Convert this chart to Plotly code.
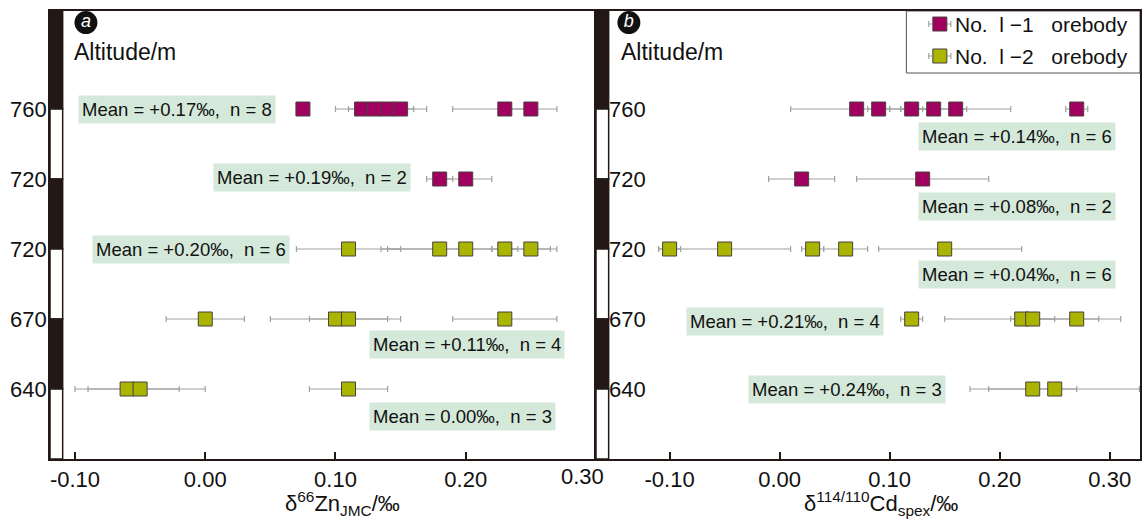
import plotly.graph_objects as go

# ---------------- data ----------------
row_labels = ["640", "670", "720", "720", "760"]
row_pos = [0, 1, 2, 3, 4]

# Panel a: delta66Zn (JMC)
a_ob1_x = [0.075, 0.12, 0.13, 0.14, 0.15, 0.23, 0.25, 0.18, 0.20]
a_ob1_row = [4, 4, 4, 4, 4, 4, 4, 3, 3]
a_ob1_errp = [0.004, 0.02, 0.02, 0.02, 0.02, 0.02, 0.02, 0.01, 0.02]
a_ob1_errm = [0.004, 0.02, 0.02, 0.02, 0.02, 0.04, 0.02, 0.01, 0.02]

a_ob2_x = [0.11, 0.18, 0.20, 0.23, 0.25, 0.00, 0.10, 0.11, 0.23, -0.06, -0.05, 0.11]
a_ob2_row = [2, 2, 2, 2, 2, 1, 1, 1, 1, 0, 0, 0]
a_ob2_errp = [0.04, 0.04, 0.065, 0.01, 0.02, 0.03, 0.05, 0.03, 0.04, 0.04, 0.05, 0.03]
a_ob2_errm = [0.04, 0.04, 0.065, 0.01, 0.02, 0.03, 0.05, 0.03, 0.04, 0.04, 0.04, 0.03]

# Panel b: delta114/110Cd (spex)
b_ob1_x = [0.07, 0.09, 0.12, 0.14, 0.16, 0.27, 0.02, 0.13]
b_ob1_row = [4, 4, 4, 4, 4, 4, 3, 3]
b_ob1_errp = [0.06, 0.01, 0.02, 0.03, 0.05, 0.01, 0.03, 0.06]
b_ob1_errm = [0.06, 0.01, 0.02, 0.03, 0.05, 0.01, 0.03, 0.06]

b_ob2_x = [-0.10, -0.05, 0.03, 0.06, 0.15, 0.12, 0.22, 0.23, 0.27, 0.23, 0.25]
b_ob2_row = [2, 2, 2, 2, 2, 1, 1, 1, 1, 0, 0]
b_ob2_errp = [0.01, 0.06, 0.01, 0.02, 0.07, 0.01, 0.07, 0.02, 0.04, 0.04, 0.077]
b_ob2_errm = [0.01, 0.06, 0.01, 0.02, 0.06, 0.01, 0.07, 0.02, 0.04, 0.04, 0.077]

a_mean_text = ["Mean = +0.17‰,  n = 8", "Mean = +0.19‰,  n = 2", "Mean = +0.20‰,  n = 6",
               "Mean = +0.11‰,  n = 4", "Mean = 0.00‰,  n = 3"]
a_mean_x = [-0.098, 0.006, -0.087, 0.126, 0.126]
a_mean_y = [4.0, 3.02, 2.0, 0.63, -0.39]

b_mean_text = ["Mean = +0.14‰,  n = 6", "Mean = +0.08‰,  n = 2", "Mean = +0.04‰,  n = 6",
               "Mean = +0.21‰,  n = 4", "Mean = +0.24‰,  n = 3"]
b_mean_x = [0.126, 0.126, 0.126, -0.085, -0.029]
b_mean_y = [3.61, 2.61, 1.63, 0.96, 0.0]

x_ticks = [-0.10, 0.00, 0.10, 0.20, 0.30]
x_ticktext_a = ["-0.10", "0.00", "0.10", "0.20", ""]   # the 0.30 label of panel a is set off to the left
x_ticktext_b = ["-0.10", "0.00", "0.10", "0.20", "0.30"]
x_title_a = "δ<sup>66</sup>Zn<sub>JMC</sub>/‰"
x_title_b = "δ<sup>114/110</sup>Cd<sub>spex</sub>/‰"

legend_names = ["No.  l \u22121   orebody", "No.  l \u22122   orebody"]
legend_x = [0.1456, 0.1456]
legend_y = [5.214, 4.757]
legend_err = [0.01, 0.01]
panel_letters = ["a", "b"]

# ---------------- styles ----------------
PURPLE = "#a0005e"
GREEN = "#a9b500"
DARK = "#231815"
BOXC = "#d5e9da"
TXT = "#111111"
FONT = "Liberation Sans, Arial, sans-serif"

fig = go.Figure()


def add_series(x, row, ep, em, color, xa, ya, name):
    fig.add_trace(go.Scatter(
        x=x, y=row, mode="markers", name=name, showlegend=False,
        xaxis=xa, yaxis=ya,
        marker=dict(symbol="square", size=14, color=color, line=dict(color="#4a4040", width=1)),
        error_x=dict(type="data", symmetric=False, array=ep, arrayminus=em,
                     color="#a0a0a0", thickness=1.2, width=3),
        cliponaxis=True,
    ))


add_series(a_ob1_x, a_ob1_row, a_ob1_errp, a_ob1_errm, PURPLE, "x", "y", legend_names[0])
add_series(a_ob2_x, a_ob2_row, a_ob2_errp, a_ob2_errm, GREEN, "x", "y", legend_names[1])
add_series(b_ob1_x, b_ob1_row, b_ob1_errp, b_ob1_errm, PURPLE, "x2", "y2", legend_names[0])
add_series(b_ob2_x, b_ob2_row, b_ob2_errp, b_ob2_errm, GREEN, "x2", "y2", legend_names[1])

# legend keys (square with error-bar caps), drawn inside panel b
for lx, ly, le, col, nm in zip(legend_x, legend_y, legend_err, [PURPLE, GREEN], legend_names):
    fig.add_trace(go.Scatter(
        x=[lx], y=[ly], xaxis="x2", yaxis="y2", mode="markers", showlegend=False, name=nm,
        marker=dict(symbol="square", size=14, color=col, line=dict(color="#4a4040", width=1)),
        error_x=dict(type="data", array=[le], color="#a0a0a0", thickness=1.2, width=3),
        cliponaxis=False, hoverinfo="skip",
    ))

# panel letter badges (black disc with white italic letter)
for xa, ya, cx, letter in [("x", "y", -0.0916, panel_letters[0]), ("x2", "y2", -0.137, panel_letters[1])]:
    fig.add_trace(go.Scatter(
        x=[cx], y=[5.235], xaxis=xa, yaxis=ya, mode="markers+text", showlegend=False,
        text=["<i>" + letter + "</i>"], textposition="middle center", cliponaxis=False,
        marker=dict(symbol="circle", size=23, color="#111", line=dict(width=0)),
        textfont=dict(family=FONT, size=18, color="white"), hoverinfo="skip",
    ))

annotations = []
for t, x, y in zip(a_mean_text, a_mean_x, a_mean_y):
    annotations.append(dict(text=t, x=x, y=y, xref="x", yref="y", xanchor="left", yanchor="middle",
                            showarrow=False, bgcolor=BOXC, borderpad=3,
                            font=dict(family=FONT, size=18.5, color=TXT)))
for t, x, y in zip(b_mean_text, b_mean_x, b_mean_y):
    annotations.append(dict(text=t, x=x, y=y, xref="x2", yref="y2", xanchor="left", yanchor="middle",
                            showarrow=False, bgcolor=BOXC, borderpad=3,
                            font=dict(family=FONT, size=18.5, color=TXT)))

# altitude labels: panel a outside left of the strip, panel b inside right of the strip
for t, y in zip(row_labels, row_pos):
    annotations.append(dict(text=t, x=-0.001, y=y, xref="x domain", yref="y", xanchor="right",
                            yanchor="middle", showarrow=False,
                            font=dict(family=FONT, size=22, color=TXT)))
    annotations.append(dict(text=t, x=0.021, y=y, xref="x2 domain", yref="y2", xanchor="left",
                            yanchor="middle", showarrow=False,
                            font=dict(family=FONT, size=22, color=TXT)))

annotations.append(dict(text="Altitude/m", x=0.040, y=0.908, xref="x domain", yref="y domain",
                        xanchor="left", yanchor="middle", showarrow=False,
                        font=dict(family=FONT, size=23, color=TXT)))
annotations.append(dict(text="Altitude/m", x=0.042, y=0.908, xref="x2 domain", yref="y2 domain",
                        xanchor="left", yanchor="middle", showarrow=False,
                        font=dict(family=FONT, size=23, color=TXT)))

# legend texts
for nm, ly in zip(legend_names, legend_y):
    annotations.append(dict(text=nm, x=0.657, y=ly, xref="x2 domain", yref="y2", xanchor="left",
                            yanchor="middle", showarrow=False,
                            font=dict(family=FONT, size=21, color=TXT)))

# panel a "0.30" label offset to the left of its tick, as in the original
annotations.append(dict(text=x_ticktext_b[-1], x=0.9753, y=-0.040, xref="x domain", yref="y domain",
                        xanchor="center", yanchor="middle", showarrow=False,
                        font=dict(family=FONT, size=22, color=TXT)))
# axis titles
annotations.append(dict(text=x_title_a, x=0.5366, y=-0.099, xref="x domain", yref="y domain",
                        xanchor="center", yanchor="middle", showarrow=False,
                        font=dict(family=FONT, size=22, color=TXT)))
annotations.append(dict(text=x_title_b, x=0.5239, y=-0.099, xref="x2 domain", yref="y2 domain",
                        xanchor="center", yanchor="middle", showarrow=False,
                        font=dict(family=FONT, size=22, color=TXT)))

shapes = []
# legend frame
shapes.append(dict(type="rect", xref="x2 domain", yref="y2 domain", x0=0.5706, x1=1.0,
                   y0=0.8616, y1=1.0, fillcolor="white", line=dict(color="#555", width=1), layer="below"))
# alternating black/white altitude strip
strip_segments = [(5.4, 4, DARK), (4, 3, "white"), (3, 2, DARK), (2, 1, "white"), (1, 0, DARK), (0, -1, "white")]
for xr, yr, w in [("x domain", "y", 0.0232), ("x2 domain", "y2", 0.0233)]:
    for y0, y1, c in strip_segments:
        shapes.append(dict(type="rect", xref=xr, yref=yr, x0=0, x1=w, y0=y1, y1=y0,
                           fillcolor=c, line=dict(color=DARK, width=1.5), layer="above"))

axis_font = dict(family=FONT, size=22, color=TXT)
xcommon = dict(tickvals=x_ticks, ticks="inside", ticklen=7, tickwidth=1.5,
               tickcolor=DARK, showline=True, linecolor=DARK, linewidth=2, mirror=True,
               showgrid=False, zeroline=False, tickfont=axis_font)
ycommon = dict(range=[-1, 5.4], tickvals=row_pos, showticklabels=False, ticks="", showline=True,
               linecolor=DARK, linewidth=2, mirror=True, showgrid=False, zeroline=False)

fig.update_layout(
    width=1146, height=519,
    margin=dict(l=50, r=4, t=11, b=60),
    paper_bgcolor="white", plot_bgcolor="white",
    font=dict(family=FONT, color=TXT),
    showlegend=False,
    xaxis=dict(domain=[0, 0.5009], range=[-0.1192, 0.30], anchor="y", ticktext=x_ticktext_a, **xcommon),
    xaxis2=dict(domain=[0.5009, 1.0], range=[-0.1669, 0.3275], anchor="y2", ticktext=x_ticktext_b, **xcommon),
    yaxis=dict(anchor="x", **ycommon),
    yaxis2=dict(anchor="x2", **ycommon),
    annotations=annotations,
    shapes=shapes,
)

fig.write_html("out.html")
